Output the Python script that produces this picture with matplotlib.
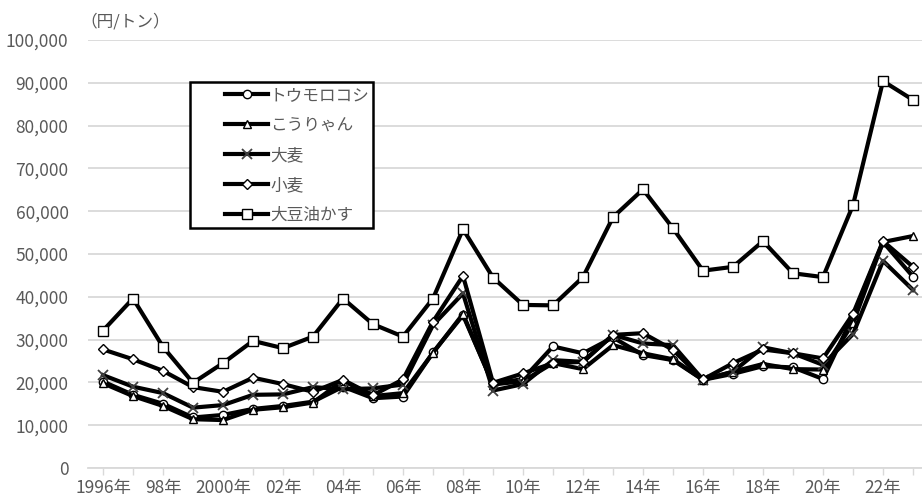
import numpy as np
import matplotlib
matplotlib.use("Agg")
import matplotlib.pyplot as plt
from matplotlib.patches import Rectangle
from matplotlib.ticker import FuncFormatter

plt.rcParams["font.family"] = ["Noto Sans CJK JP", "DejaVu Sans"]

years = list(range(1996, 2024))
tick_labels = ["1996年", "98年", "2000年", "02年", "04年", "06年", "08年",
               "10年", "12年", "14年", "16年", "18年", "20年", "22年"]

# 円/トン
corn = [20200, 17100, 15000, 11800, 12400, 13800, 14500, 15500, 19000, 16300,
        16700, 27000, 35700, 19600, 20800, 28400, 26800, 30500, 26400, 25200,
        20600, 22000, 23800, 23500, 20800, 35500, 52800, 44700]
sorghum = [19800, 16800, 14500, 11400, 11200, 13600, 14200, 15300, 20400, 16800,
           17500, 26900, 36000, 19500, 20300, 24500, 23100, 28700, 26800, 25400,
           20600, 22500, 24300, 23100, 23000, 33800, 52800, 54200]
barley = [21700, 19000, 17500, 14100, 14700, 17100, 17200, 18900, 18400, 18600,
          19500, 33400, 40800, 18100, 19600, 25200, 24800, 31100, 29100, 28700,
          20600, 22500, 28200, 26800, 24100, 31300, 48400, 41600]
wheat = [27700, 25400, 22700, 18900, 17800, 21100, 19600, 17800, 20600, 17000,
         20700, 34200, 44900, 19900, 22100, 24500, 24800, 31100, 31500, 27600,
         20700, 24500, 27700, 26800, 25600, 36000, 53000, 47000]
soymeal = [32100, 39600, 28300, 19900, 24500, 29700, 28000, 30700, 39600, 33600,
           30700, 39600, 55800, 44500, 38100, 38000, 44600, 58600, 65100, 56000,
           46100, 47000, 53000, 45500, 44600, 61400, 90400, 86000]

text_color = "#595959"
grid_color = "#d9d9d9"

fig = plt.figure(figsize=(9.22, 5.0), dpi=100)
ax = fig.add_axes([88 / 922, 1 - 468 / 500, 1 - 88 / 922, 428 / 500])

lw = 3.0
ax.plot(years, corn, color="black", lw=lw, marker="o", ms=6,
        mfc="white", mec="black", mew=1.0, label="トウモロコシ", zorder=3)
ax.plot(years, sorghum, color="black", lw=lw, marker="^", ms=6,
        mfc="white", mec="black", mew=1.0, label="こうりゃん", zorder=3)
ax.plot(years, barley, color="black", lw=lw, marker="x", ms=7,
        mec="#404040", mew=1.3, label="大麦", zorder=3)
ax.plot(years, wheat, color="black", lw=lw, marker="D", ms=4.8,
        mfc="white", mec="black", mew=1.0, label="小麦", zorder=3)
ax.plot(years, soymeal, color="black", lw=lw, marker="s", ms=7,
        mfc="white", mec="black", mew=1.0, label="大豆油かす", zorder=3)

ax.set_xlim(1995.5, 2023.3)
ax.set_ylim(0, 100000)
ax.set_yticks(np.arange(0, 100001, 10000))
ax.yaxis.set_major_formatter(FuncFormatter(lambda v, p: f"{v:,.0f}"))
ax.set_xticks(years)
ax.set_xticklabels([tick_labels[i // 2] if i % 2 == 0 else "" for i in range(len(years))])

ax.grid(axis="y", color=grid_color, lw=1.3, zorder=0)
ax.set_axisbelow(True)
for s in ["left", "right", "top"]:
    ax.spines[s].set_visible(False)
ax.spines["bottom"].set_color(grid_color)
ax.spines["bottom"].set_linewidth(1.3)
ax.tick_params(axis="y", length=0, pad=14, labelsize=12.5, labelcolor=text_color)
ax.tick_params(axis="x", length=5, width=1.0, color=grid_color, pad=3,
               labelsize=12.5, labelcolor=text_color)

fig.text(80 / 922, 1 - 22 / 500, "（円/トン）", ha="left", va="center",
         fontsize=12, color=text_color)

# legend frame drawn separately so the left padding can be wider
x0 = (190 - 88) / 834
y0 = (468 - 228) / 428
ax.add_patch(Rectangle((x0, y0), 183 / 834, 146 / 428, transform=ax.transAxes,
                       fill=True, facecolor="white", edgecolor="black",
                       lw=1.8, zorder=4))
leg = ax.legend(loc="upper left", bbox_to_anchor=((225 - 88) / 834, (468 - 87) / 428),
                frameon=False, fontsize=12, handlelength=2.6, handletextpad=0.1,
                labelspacing=0.78, borderaxespad=0, borderpad=0)
leg.set_zorder(5)
for t in leg.get_texts():
    t.set_color(text_color)

fig.savefig("out.png", dpi=100)
